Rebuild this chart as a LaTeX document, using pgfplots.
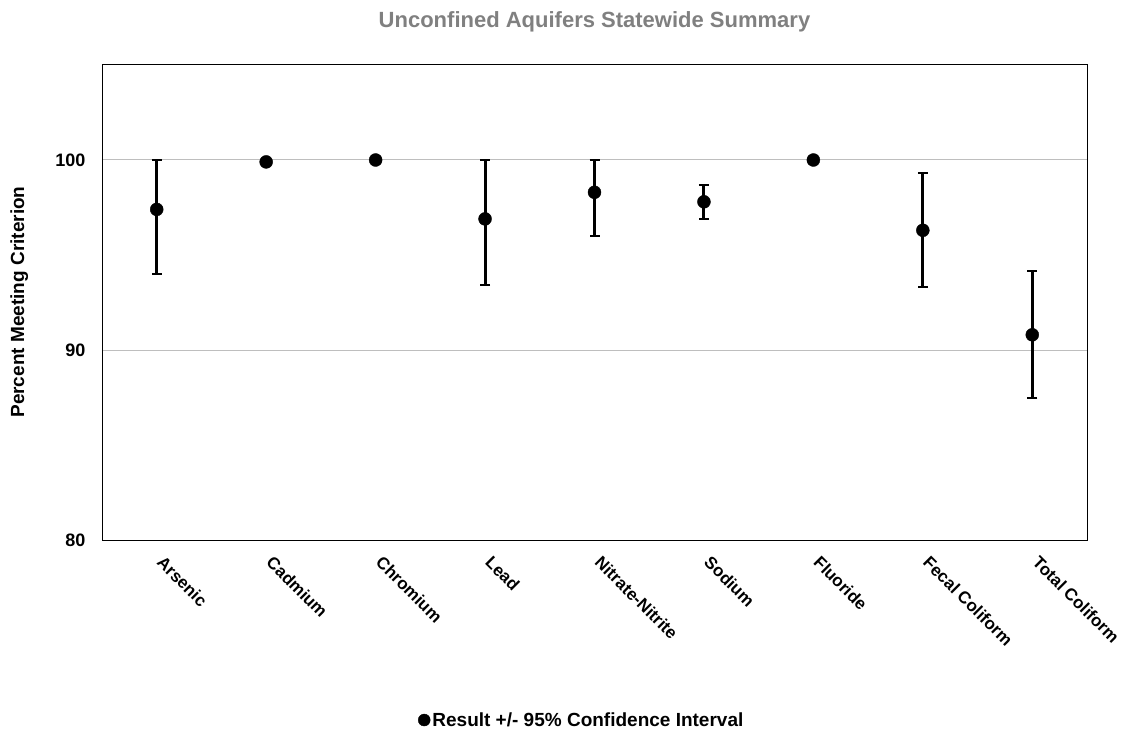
\documentclass[border=0pt]{standalone}
\usepackage{pgfplots}
\pgfplotsset{compat=1.18}
\usepackage{pgfplotstable}
\usepackage{fontspec}
\setmainfont{Liberation Sans}
\definecolor{titlegray}{RGB}{128,128,128}
\definecolor{gridgray}{RGB}{190,190,190}
\pgfplotstableread{
x y yp ym
0 97.4 2.6 3.4
1 99.9 0 0
2 100 0 0
3 96.9 3.1 3.5
4 98.3 1.7 2.3
5 97.8 0.9 0.9
6 100 0 0
7 96.3 3.0 3.0
8 90.8 3.35 3.35
}\datatable
\begin{document}
\begin{tikzpicture}
\useasboundingbox (0,0) rectangle (1123pt,734pt);
\begin{axis}[
  at={(102pt,194pt)}, anchor=south west,
  scale only axis, width=985pt, height=475pt,
  xmin=-0.5, xmax=8.5, ymin=80, ymax=105,
  xtick={0,...,8},
  xticklabels={Arsenic,Cadmium,Chromium,Lead,Nitrate-Nitrite,Sodium,Fluoride,Fecal Coliform,Total Coliform},
  ytick={80,90,100},
  ymajorgrids, grid style={gridgray, line width=1pt},
  major tick length=0pt,
  axis line style={black, line width=1pt},
  tick label style={font=\fontsize{18}{21}\selectfont\bfseries},
  /pgf/number format/assume math mode=true,
  xticklabel style={font=\fontsize{17}{20}\selectfont\bfseries, xshift=8pt, yshift=-10pt, rotate=-45, anchor=north west},
  yticklabel style={xshift=-13pt},
  ylabel={Percent Meeting Criterion},
  ylabel style={font=\fontsize{19}{22}\selectfont\bfseries, at={(axis description cs:-0.084,0.501)}, anchor=center},
  title={Unconfined Aquifers Statewide Summary},
  title style={font=\fontsize{22}{26}\selectfont\bfseries, text=titlegray, at={(axis description cs:0.5,1)}, anchor=center, yshift=37pt},
  legend style={at={(axis description cs:0.487,-0.379)}, anchor=center, draw=none, font=\fontsize{19}{22}\selectfont\bfseries, inner sep=0pt},
  legend image code/.code={\fill[black] (0.2em,0) circle (6pt);},
]
\addplot[only marks, mark=*, mark size=6.5pt, black,
  error bars/.cd, y dir=both, y explicit,
  error bar style={line width=3pt, black},
  error mark options={rotate=90, mark size=5pt, line width=2pt, black}]
  table[x=x, y=y, y error plus=yp, y error minus=ym]{\datatable};
\addlegendentry{Result +/- 95\% Confidence Interval}
\end{axis}
\end{tikzpicture}
\end{document}
